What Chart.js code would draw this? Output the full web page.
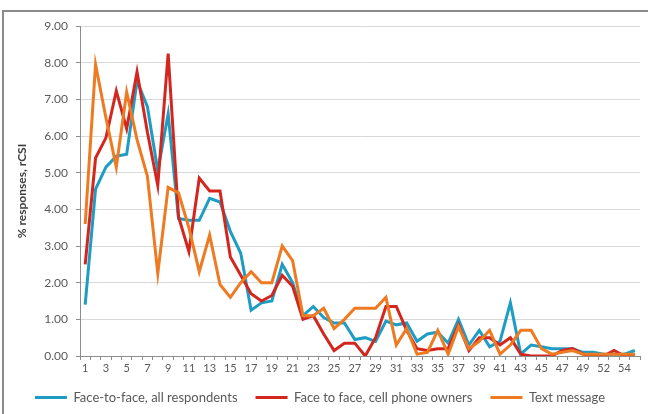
<!DOCTYPE html>
<html><head><meta charset="utf-8">
<script src="https://cdn.jsdelivr.net/npm/chart.js@4"></script>
<style>
html,body{margin:0;padding:0;background:#fff;width:648px;height:414px;overflow:hidden}
#frame{position:absolute;left:2px;top:10px;width:700px;height:500px;border:2px solid #8a8a8a;box-sizing:border-box}
#c{position:absolute;left:0;top:0}
</style></head><body>
<div id="frame"></div>
<canvas id="c" width="648" height="414"></canvas>
<script>
const categories = [1,2,3,4,5,6,7,8,9,10,11,12,13,14,15,16,17,18,19,20,21,22,23,24,25,26,27,28,29,30,31,32,33,34,35,36,37,38,39,40,41,42,43,44,45,46,47,48,49,50,52,53,54,55];
const faceAll = [1.40,4.55,5.15,5.45,5.50,7.50,6.80,5.05,6.60,3.75,3.70,3.70,4.30,4.20,3.40,2.80,1.25,1.45,1.50,2.50,2.00,1.10,1.35,1.05,0.90,0.90,0.45,0.50,0.40,0.95,0.85,0.90,0.40,0.60,0.65,0.35,1.00,0.30,0.70,0.25,0.40,1.45,0.05,0.30,0.25,0.20,0.20,0.20,0.10,0.10,0.05,0.05,0.05,0.15];
const faceCell = [2.50,5.40,5.95,7.23,6.20,7.75,6.10,4.65,8.25,3.80,2.85,4.85,4.50,4.50,2.70,2.20,1.70,1.50,1.65,2.20,1.90,1.00,1.10,0.60,0.15,0.35,0.35,0.00,0.50,1.35,1.35,0.70,0.20,0.15,0.20,0.20,0.85,0.15,0.50,0.50,0.30,0.50,0.05,0.00,0.00,0.00,0.15,0.20,0.05,0.00,0.00,0.15,0.00,0.05];
const textMsg = [3.60,7.95,6.50,5.15,7.20,5.90,4.90,2.25,4.60,4.45,3.50,2.30,3.30,1.95,1.60,2.00,2.30,2.00,2.00,3.00,2.60,1.10,1.10,1.30,0.75,1.00,1.30,1.30,1.30,1.60,0.30,0.75,0.05,0.10,0.70,0.05,0.80,0.20,0.40,0.70,0.05,0.30,0.70,0.70,0.20,0.05,0.10,0.15,0.05,0.05,0.05,0.05,0.05,0.05];
const seriesNames = ['Face-to-face, all respondents','Face to face, cell phone owners','Text message'];
const yTitle = '% responses, rCSI';

const FONT = 'Lato, "Liberation Sans", sans-serif';
const colors = ['#1E9DC4','#D3261F','#EE7A22'];
const mk = (label, data, color, order) => ({
  label, data, borderColor: color, backgroundColor: color, borderWidth: 3,
  pointRadius: 0, tension: 0, fill: false, order, pointStyle: 'line'
});

new Chart(document.getElementById('c'), {
  type: 'line',
  data: {
    labels: categories.map(String),
    datasets: [
      mk(seriesNames[0], faceAll, colors[0], 3),
      mk(seriesNames[1], faceCell, colors[1], 2),
      mk(seriesNames[2], textMsg, colors[2], 1)
    ]
  },
  options: {
    responsive: false,
    animation: false,
    devicePixelRatio: 1,
    layout: { padding: { top: 26, right: 8, left: 0, bottom: 0 } },
    plugins: {
      tooltip: { enabled: false },
      legend: {
        position: 'bottom',
        labels: {
          usePointStyle: true, pointStyleWidth: 32,
          font: { family: FONT, size: 13 }, color: '#595959', padding: 18,
          sort: (a, b) => a.datasetIndex - b.datasetIndex
        }
      }
    },
    scales: {
      x: {
        offset: true,
        grid: { offset: true, drawOnChartArea: false, tickLength: 4, tickColor: '#8c8c8c' },
        border: { color: '#8c8c8c', width: 1 },
        ticks: {
          autoSkip: false, maxRotation: 0, minRotation: 0, padding: 2,
          font: { family: FONT, size: 11 }, color: '#595959',
          callback: (v, i) => (i % 2 === 0 ? categories[i] : '')
        },
        afterFit: s => { s.height = 17; }
      },
      y: {
        min: 0, max: 9,
        grid: { color: '#d9d9d9', tickLength: 4, tickColor: '#8c8c8c' },
        border: { color: '#8c8c8c', width: 1 },
        ticks: {
          stepSize: 1, padding: 8,
          font: { family: FONT, size: 12 }, color: '#595959',
          callback: v => Number(v).toFixed(2)
        },
        title: {
          display: true, text: yTitle, color: '#404040',
          font: { family: FONT, size: 12, weight: 'bold' },
          padding: { top: 15, bottom: 0 }
        },
        afterFit: s => { s.width = 80; }
      }
    }
  }
});
</script>
</body></html>
